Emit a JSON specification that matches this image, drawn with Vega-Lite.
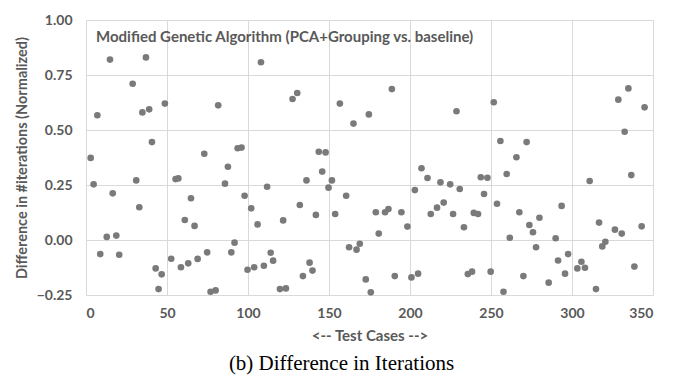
{
  "$schema": "https://vega.github.io/schema/vega-lite/v6.json",
  "width": 567,
  "height": 275,
  "autosize": {"type": "none"},
  "padding": {"left": 86, "top": 20, "right": 28, "bottom": 80},
  "background": "white",
  "title": {
    "text": "(b) Difference in Iterations",
    "orient": "bottom",
    "anchor": "middle",
    "font": "Liberation Serif",
    "fontSize": 21,
    "fontWeight": "normal",
    "color": "black",
    "offset": 10,
    "dx": -28
  },
  "config": {
    "view": {"stroke": null},
    "axis": {
      "labelFont": "Lato",
      "labelFontWeight": "bold",
      "labelFontSize": 14,
      "labelColor": "#595959",
      "titleFont": "Lato",
      "titleFontWeight": "bold",
      "titleFontSize": 15,
      "titleColor": "#595959",
      "gridColor": "#d9d9d9",
      "gridWidth": 1,
      "domain": false,
      "ticks": false
    }
  },
  "layer": [
    {
      "data": {"values": [
        {"x": 2.9, "y": 0.373}, {"x": 4.7, "y": 0.253}, {"x": 7, "y": 0.567}, {"x": 8.8, "y": -0.064},
        {"x": 12.8, "y": 0.014}, {"x": 14.8, "y": 0.82}, {"x": 16.5, "y": 0.212}, {"x": 18.7, "y": 0.02},
        {"x": 20.5, "y": -0.067}, {"x": 28.8, "y": 0.71}, {"x": 31, "y": 0.271}, {"x": 32.9, "y": 0.149},
        {"x": 34.8, "y": 0.58}, {"x": 37, "y": 0.83}, {"x": 39, "y": 0.594}, {"x": 40.7, "y": 0.445},
        {"x": 43, "y": -0.129}, {"x": 44.8, "y": -0.223}, {"x": 46.7, "y": -0.156}, {"x": 48.7, "y": 0.62},
        {"x": 52.6, "y": -0.085}, {"x": 55.3, "y": 0.277}, {"x": 57, "y": 0.28}, {"x": 58.6, "y": -0.124},
        {"x": 61, "y": 0.091}, {"x": 63.1, "y": -0.106}, {"x": 64.8, "y": 0.19}, {"x": 67, "y": 0.064},
        {"x": 68.9, "y": -0.086}, {"x": 73, "y": 0.392}, {"x": 74.8, "y": -0.056}, {"x": 76.9, "y": -0.235},
        {"x": 80, "y": -0.229}, {"x": 81.6, "y": 0.612}, {"x": 85.8, "y": 0.256}, {"x": 87.6, "y": 0.333},
        {"x": 89.7, "y": -0.056}, {"x": 91.7, "y": -0.012}, {"x": 93.6, "y": 0.417}, {"x": 96, "y": 0.42},
        {"x": 97.9, "y": 0.201}, {"x": 99.7, "y": -0.135}, {"x": 102, "y": 0.144}, {"x": 103.8, "y": -0.124},
        {"x": 105.9, "y": 0.071}, {"x": 108, "y": 0.808}, {"x": 109.8, "y": -0.117}, {"x": 111.8, "y": 0.242},
        {"x": 114, "y": -0.058}, {"x": 115.5, "y": -0.094}, {"x": 119.7, "y": -0.223}, {"x": 121.7, "y": 0.089},
        {"x": 123.4, "y": -0.22}, {"x": 127.5, "y": 0.641}, {"x": 130.4, "y": 0.668}, {"x": 132, "y": 0.159},
        {"x": 133.9, "y": -0.164}, {"x": 136.1, "y": 0.271}, {"x": 138, "y": -0.103}, {"x": 139.8, "y": -0.139},
        {"x": 141.9, "y": 0.114}, {"x": 143.7, "y": 0.401}, {"x": 145.8, "y": 0.311}, {"x": 147.9, "y": 0.398},
        {"x": 149.7, "y": 0.238}, {"x": 151.8, "y": 0.271}, {"x": 153.8, "y": 0.118}, {"x": 156.7, "y": 0.62},
        {"x": 160.6, "y": 0.201}, {"x": 162.4, "y": -0.033}, {"x": 165.1, "y": 0.529}, {"x": 167, "y": -0.044},
        {"x": 169, "y": -0.017}, {"x": 172.7, "y": -0.179}, {"x": 174.6, "y": 0.571}, {"x": 175.8, "y": -0.238},
        {"x": 178.9, "y": 0.126}, {"x": 180.7, "y": 0.029}, {"x": 184.6, "y": 0.126}, {"x": 186.7, "y": 0.141},
        {"x": 188.8, "y": 0.686}, {"x": 190.6, "y": -0.164}, {"x": 194.7, "y": 0.126}, {"x": 198.4, "y": 0.061},
        {"x": 200.9, "y": -0.17}, {"x": 203, "y": 0.227}, {"x": 205, "y": -0.153}, {"x": 207.1, "y": 0.326},
        {"x": 210.8, "y": 0.282}, {"x": 212.8, "y": 0.118}, {"x": 216.7, "y": 0.147}, {"x": 218.8, "y": 0.262},
        {"x": 220.8, "y": 0.17}, {"x": 224.8, "y": 0.253}, {"x": 226.6, "y": 0.118}, {"x": 228.7, "y": 0.585},
        {"x": 230.7, "y": 0.232}, {"x": 233.3, "y": 0.058}, {"x": 235.7, "y": -0.155}, {"x": 238.3, "y": -0.144},
        {"x": 239.4, "y": 0.123}, {"x": 242, "y": 0.118}, {"x": 243.7, "y": 0.285}, {"x": 245.7, "y": 0.209},
        {"x": 247.8, "y": 0.283}, {"x": 249.8, "y": -0.144}, {"x": 251.7, "y": 0.626}, {"x": 253.7, "y": 0.165},
        {"x": 255.8, "y": 0.45}, {"x": 257.7, "y": -0.235}, {"x": 259.7, "y": 0.3}, {"x": 261.6, "y": 0.01},
        {"x": 265.7, "y": 0.376}, {"x": 267.5, "y": 0.126}, {"x": 270, "y": -0.164}, {"x": 272, "y": 0.445},
        {"x": 273.7, "y": 0.068}, {"x": 275.9, "y": 0.035}, {"x": 277.8, "y": -0.033}, {"x": 279.9, "y": 0.101},
        {"x": 285.6, "y": -0.194}, {"x": 289.9, "y": 0.008}, {"x": 291.4, "y": -0.093}, {"x": 293.6, "y": 0.155},
        {"x": 295.7, "y": -0.153}, {"x": 297.6, "y": -0.064}, {"x": 303.3, "y": -0.129}, {"x": 305.8, "y": -0.099},
        {"x": 308, "y": -0.126}, {"x": 310.9, "y": 0.268}, {"x": 314.8, "y": -0.223}, {"x": 316.7, "y": 0.079},
        {"x": 318.7, "y": -0.029}, {"x": 320.6, "y": -0.008}, {"x": 326.5, "y": 0.047}, {"x": 328.6, "y": 0.638},
        {"x": 330.7, "y": 0.029}, {"x": 332.5, "y": 0.492}, {"x": 334.8, "y": 0.689}, {"x": 336.6, "y": 0.295},
        {"x": 338.5, "y": -0.121}, {"x": 343, "y": 0.062}, {"x": 344.8, "y": 0.603}
      ]},
      "mark": {"type": "point", "filled": true, "size": 44, "color": "#7a7a7a", "opacity": 1},
      "encoding": {
        "x": {
          "field": "x", "type": "quantitative",
          "scale": {"domain": [0, 350], "nice": false, "zero": false},
          "axis": {"values": [0, 50, 100, 150, 200, 250, 300, 350], "title": "<-- Test Cases -->", "labelPadding": 11, "titlePadding": 8}
        },
        "y": {
          "field": "y", "type": "quantitative",
          "scale": {"domain": [-0.25, 1], "nice": false, "zero": false},
          "axis": {"values": [-0.25, 0, 0.25, 0.5, 0.75, 1], "format": ".2f", "title": "Difference in #iterations (Normalized)", "titleFontSize": 14.5, "labelPadding": 14, "titlePadding": 7}
        }
      }
    },
    {
      "data": {"values": [{"label": "Modified Genetic Algorithm (PCA+Grouping vs. baseline)"}]},
      "mark": {"type": "text", "align": "left", "baseline": "middle", "font": "Lato", "fontWeight": "bold", "fontSize": 15, "color": "#595959"},
      "encoding": {
        "x": {"datum": 6.2, "type": "quantitative"},
        "y": {"datum": 0.925, "type": "quantitative"},
        "text": {"field": "label"}
      }
    }
  ]
}
